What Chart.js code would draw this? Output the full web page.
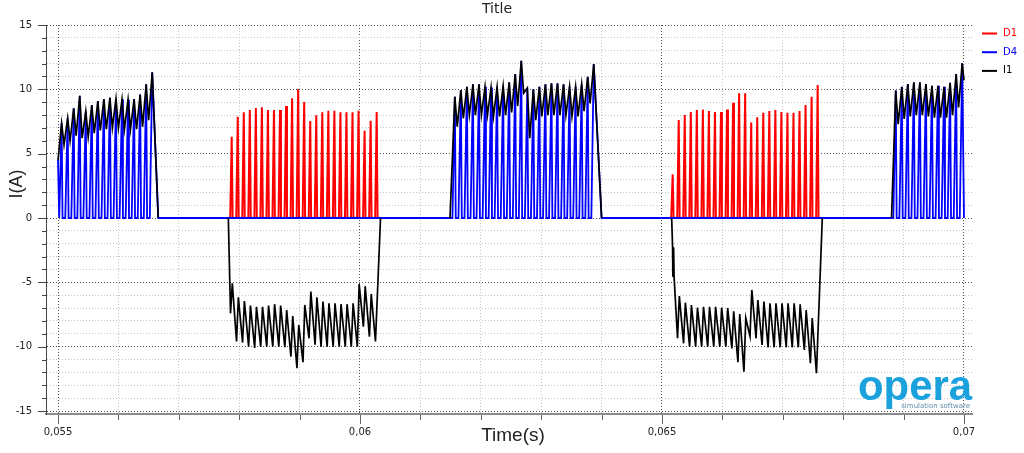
<!DOCTYPE html>
<html>
<head>
<meta charset="utf-8">
<title>Title</title>
<script src="https://cdn.jsdelivr.net/npm/chart.js@4.4.0/dist/chart.umd.min.js"></script>
<style>
  html, body { margin: 0; padding: 0; background: #fff; }
  #wrap { width: 1024px; height: 453px; }
</style>
</head>
<body>
<div id="wrap"><canvas id="chart" width="1024" height="453"></canvas></div>
<script>
// switching period (s)
const STEP = 0.0001;

// positive half-waves: D4 pulses and the I1 ripple on top of them
const posStartA = 0.05506, posStartB = 0.06157, posStartC = 0.06887;
const posPeakA = [7.36, 7.75, 8.52, 9.5, 8.3, 8.78, 9.09, 9.25, 9.35, 9.27, 9.22, 9.2, 9.25, 9.6, 10.39, 11.32];
const posLowA = [5.7, 6.0, 6.4, 6.2, 6.3, 6.6, 6.8, 6.9, 7.0, 7.0, 6.9, 6.9, 6.9, 7.1, 7.6];
const posPeakB = [9.43, 9.95, 10.2, 10.39, 10.39, 10.2, 10.15, 10.2, 10.26, 10.54, 11.19, 12.22,
                  10.1, 10.0, 10.2, 10.39, 10.46, 10.46, 10.39, 10.2, 10.2, 10.4, 10.98, 11.97];
const posLowB = [7.1, 7.75, 8.0, 8.0, 8.0, 8.0, 7.9, 7.9, 8.0, 8.2, 8.7, 9.7,
                 6.2, 7.6, 7.9, 8.0, 8.0, 8.0, 8.0, 7.9, 7.9, 8.3, 8.9];
const posPeakC = [9.9, 10.2, 10.41, 10.54, 10.54, 10.41, 10.28, 10.28, 10.2, 10.51, 11.19, 12.02];
const posLowC = [7.3, 7.7, 7.9, 8.0, 8.0, 7.9, 7.8, 7.8, 7.8, 8.0, 8.6];
// where each positive half-wave begins and ends [time, I1]
const posEdgeA = [[0.055, 4.5], [0.05666, 0]];
const posEdgeB = [[0.06149, 0], [0.06400, 0]];
const posEdgeC = [[0.06880, 0], [0.07000, 10.7]];

// negative half-waves: D1 pulses and the I1 ripple
const negStartA = 0.057876, negStartB = 0.065177;
const negRedA = [6.32, 7.87, 8.21, 8.39, 8.55, 8.6, 8.39, 8.39, 8.39, 8.7, 9.3, 10.02, 9.01,
                 7.54, 7.98, 8.21, 8.34, 8.34, 8.21, 8.21, 8.21, 8.34, 6.78, 7.56, 8.24];
const negDownA = [-7.41, -9.6, -9.68, -10.0, -10.1, -10.0, -10.0, -10.0, -10.0, -10.05, -10.78, -11.68, -11.2,
                  -9.35, -9.84, -10.0, -10.0, -10.0, -10.0, -10.0, -10.0, -10.0, -8.44, -9.22, -9.6];
const negUpA = [-5.08, -6.16, -6.45, -6.81, -6.9, -6.9, -6.8, -6.7, -6.8, -7.15, -7.61, -8.31, -6.76,
                -5.72, -6.16, -6.5, -6.63, -6.63, -6.7, -6.7, -6.63, -5.13, -5.3, -5.9];
const negRedB = [3.39, 7.61, 8.0, 8.24, 8.39, 8.44, 8.31, 8.24, 8.24, 8.44, 8.96, 9.69, 9.69,
                 7.43, 7.82, 8.18, 8.31, 8.39, 8.24, 8.18, 8.18, 8.31, 8.78, 9.43, 10.33];
const negDownB = [null, -9.35, -9.74, -10.0, -10.0, -10.0, -10.0, -10.0, -10.0, -10.0, -10.13, -11.2, -11.94,
                  -9.2, -9.35, -9.87, -10.05, -10.05, -10.05, -10.05, -10.05, -10.05, -10.26, -11.29, -12.07];
const negUpB = [null, -6.06, -6.58, -6.76, -6.97, -6.9, -6.9, -6.9, -6.97, -7.0, -7.25, -7.46, -7.77,
                -5.59, -6.37, -6.5, -6.63, -6.63, -6.63, -6.63, -6.63, -6.7, -7.15, -7.77];
// I1 lead-in and return to zero [time, I1]
const negLeadA = [[0.05782, 0]];
const negLeadB = [[0.06516, 0], [0.065175, -2.23], [0.06518, -4.56], [0.065185, -2.3],
                  [0.06519, -4.6], [0.065195, -2.4], [0.0652, -4.56]];
const negEndA = 0.06034, negEndB = 0.067654;

// axis ranges
const xMin = 0.0548013, xMax = 0.0701325;
const yMin = -15.233, yMax = 15;

const i1 = [], d4 = [], d1 = [];

function positiveWave(t0, peaks, lows, edge) {
  i1.push({ x: edge[0][0], y: edge[0][1] });
  if (edge[0][1] !== 0) d4.push({ x: edge[0][0], y: edge[0][1] });
  peaks.forEach((p, i) => {
    const t = t0 + i * STEP;
    d4.push({ x: t - 0.00004, y: 0 }, { x: t, y: p });
    i1.push({ x: t, y: p });
    if (i < peaks.length - 1) {
      d4.push({ x: t + 0.000015, y: 0 });
      i1.push({ x: t + 0.00004, y: lows[i] });
    }
  });
  d4.push({ x: edge[1][0], y: 0 });
  i1.push({ x: edge[1][0], y: edge[1][1] });
  i1.push({ x: edge[1][0] + 0.00001, y: null });
}

function negativeWave(t0, red, downs, ups, lead, tEnd) {
  lead.forEach(p => i1.push({ x: p[0], y: p[1] }));
  red.forEach((r, k) => {
    const t = t0 + k * STEP;
    d1.push({ x: t - 0.000025, y: 0 }, { x: t, y: r }, { x: t + 0.000015, y: 0 });
    if (downs[k] != null) i1.push({ x: t - 0.00002, y: downs[k] });
    if (ups[k] != null) i1.push({ x: t + 0.00001, y: ups[k] });
  });
  d1.push({ x: t0 + red.length * STEP, y: null });
  i1.push({ x: tEnd, y: 0 });
  i1.push({ x: tEnd + 0.00001, y: null });
}

positiveWave(posStartA, posPeakA, posLowA, posEdgeA);
negativeWave(negStartA, negRedA, negDownA, negUpA, negLeadA, negEndA);
positiveWave(posStartB, posPeakB, posLowB, posEdgeB);
negativeWave(negStartB, negRedB, negDownB, negUpB, negLeadB, negEndB);
positiveWave(posStartC, posPeakC, posLowC, posEdgeC);

const isMultiple = (v, m) => Math.abs(v / m - Math.round(v / m)) < 1e-6;

// small tick marks outside the plot, long on labelled values
const tickMarks = {
  id: 'tickMarks',
  afterDraw(chart) {
    const { ctx, chartArea: a, scales: { x, y } } = chart;
    ctx.save();
    ctx.lineWidth = 1;
    ctx.strokeStyle = '#444';
    y.ticks.forEach(t => {
      const py = Math.round(y.getPixelForValue(t.value)) + 0.5;
      const len = isMultiple(t.value, 5) ? 8 : 4;
      ctx.beginPath();
      ctx.moveTo(a.left - len, py);
      ctx.lineTo(a.left, py);
      ctx.stroke();
    });
    ctx.strokeStyle = '#666';
    x.ticks.forEach(t => {
      const px = Math.round(x.getPixelForValue(t.value)) + 0.5;
      const len = isMultiple(t.value, 0.005) ? 9 : 5;
      ctx.beginPath();
      ctx.moveTo(px, a.bottom + 1);
      ctx.lineTo(px, a.bottom + 1 + len);
      ctx.stroke();
    });
    ctx.restore();
  }
};

// title, axis titles, legend and the logo
const labels = {
  id: 'labels',
  afterDraw(chart) {
    const ctx = chart.ctx;
    ctx.save();
    ctx.fillStyle = '#222';
    ctx.textAlign = 'center';
    ctx.textBaseline = 'middle';
    ctx.font = '14px "DejaVu Sans"';
    ctx.fillText('Title', 497, 9);

    ctx.font = '19px "Liberation Sans"';
    ctx.fillText('Time(s)', 513, 436);
    ctx.save();
    ctx.translate(17, 184);
    ctx.rotate(-Math.PI / 2);
    ctx.font = '18px "Liberation Sans"';
    ctx.fillText('I(A)', 0, 0);
    ctx.restore();

    const legend = [['D1', '#ff0000'], ['D4', '#0000ff'], ['I1', '#000000']];
    ctx.textAlign = 'left';
    ctx.font = '10px "DejaVu Sans"';
    legend.forEach(([name, color], i) => {
      const ly = 33.5 + i * 18.7;
      ctx.strokeStyle = color;
      ctx.lineWidth = 2;
      ctx.beginPath();
      ctx.moveTo(982, ly);
      ctx.lineTo(997, ly);
      ctx.stroke();
      ctx.fillStyle = color;
      ctx.fillText(name, 1003, ly);
    });

    ctx.textAlign = 'right';
    ctx.textBaseline = 'alphabetic';
    ctx.fillStyle = '#1ba1dd';
    ctx.font = 'bold 42px "Liberation Sans"';
    const w = ctx.measureText('opera').width;
    ctx.save();
    ctx.translate(972, 400);
    ctx.scale(114 / w, 1);
    ctx.fillText('opera', 0, 0);
    ctx.restore();
    ctx.fillStyle = '#5d8aa8';
    ctx.font = '7px "DejaVu Sans"';
    ctx.fillText('simulation software', 970, 408);
    ctx.restore();
  }
};

new Chart(document.getElementById('chart'), {
  type: 'line',
  data: {
    datasets: [
      { label: 'D1', data: d1, borderColor: '#ff0000', borderWidth: 2, order: 2, spanGaps: false },
      { label: 'D4', data: d4, borderColor: '#0000ff', borderWidth: 1.8, order: 1 },
      { label: 'I1', data: i1, borderColor: '#000000', borderWidth: 1.7, order: 0, spanGaps: false }
    ]
  },
  options: {
    responsive: false,
    animation: false,
    layout: { padding: { top: 25, right: 52, left: 0, bottom: 0 } },
    elements: { point: { radius: 0 }, line: { tension: 0 } },
    plugins: { legend: { display: false }, title: { display: false }, tooltip: { enabled: false } },
    scales: {
      x: {
        type: 'linear',
        min: xMin,
        max: xMax,
        afterFit: s => { s.height = 39; },
        ticks: {
          stepSize: 0.001,
          includeBounds: false,
          autoSkip: false,
          maxRotation: 0,
          padding: 12,
          color: '#222',
          font: { family: '"DejaVu Sans"', size: 10 },
          callback: v => isMultiple(v, 0.005) ? String(+v.toFixed(3)).replace('.', ',') : ''
        },
        grid: {
          drawTicks: false,
          lineWidth: 1,
          color: c => isMultiple(c.tick.value, 0.005) ? '#555' : '#c4c4c4'
        },
        border: { display: true, color: '#8c8c8c', width: 2, dash: [1, 2] }
      },
      y: {
        min: yMin,
        max: yMax,
        afterFit: s => { s.width = 46; },
        ticks: {
          stepSize: 1,
          includeBounds: false,
          autoSkip: false,
          padding: 14,
          color: '#222',
          font: { family: '"DejaVu Sans"', size: 10 },
          callback: v => isMultiple(v, 5) ? String(Math.round(v)) : ''
        },
        grid: {
          drawTicks: false,
          lineWidth: 1,
          color: c => isMultiple(c.tick.value, 5) ? '#555' : '#c4c4c4'
        },
        border: { display: true, color: '#444', width: 1, dash: [1, 2] }
      }
    }
  },
  plugins: [tickMarks, labels]
});
</script>
</body>
</html>
